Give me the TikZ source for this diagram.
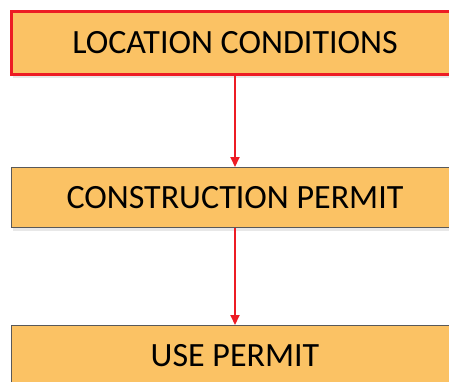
\documentclass[tikz,border=0pt]{standalone}
\usepackage{fontspec}
\setmainfont{Carlito}
\usetikzlibrary{arrows.meta}
\usetikzlibrary{shadows}
\definecolor{boxfill}{HTML}{FBC264}
\definecolor{boxred}{HTML}{ED1C24}
\definecolor{boxgray}{HTML}{595959}

\begin{document}
\begin{tikzpicture}[x=1pt, y=1pt,
	stage/.style={rectangle, fill=boxfill, draw=boxgray, line width=1pt, minimum width=447pt, minimum height=60pt, font=\fontsize{34}{38}\selectfont, text=black, drop shadow={opacity=0.18, shadow xshift=1pt, shadow yshift=-3pt}},
	flow/.style={-{Triangle[width=9pt, length=10pt]}, draw=boxred, line width=2pt}]
		\useasboundingbox (0,0) rectangle (449,-381);

		\node[stage, draw=boxred, line width=3pt, minimum height=63pt] (location) at (235,-43) {LOCATION CONDITIONS};
		\node[stage] (construction) at (235,-197.5) {CONSTRUCTION PERMIT};
		\node[stage] (use) at (235,-355.5) {USE PERMIT};

		% Connections
		\draw [flow] (location.south) -- (construction.north);
		\draw [flow] (construction.south) -- (use.north);
	\end{tikzpicture}
\end{document}
